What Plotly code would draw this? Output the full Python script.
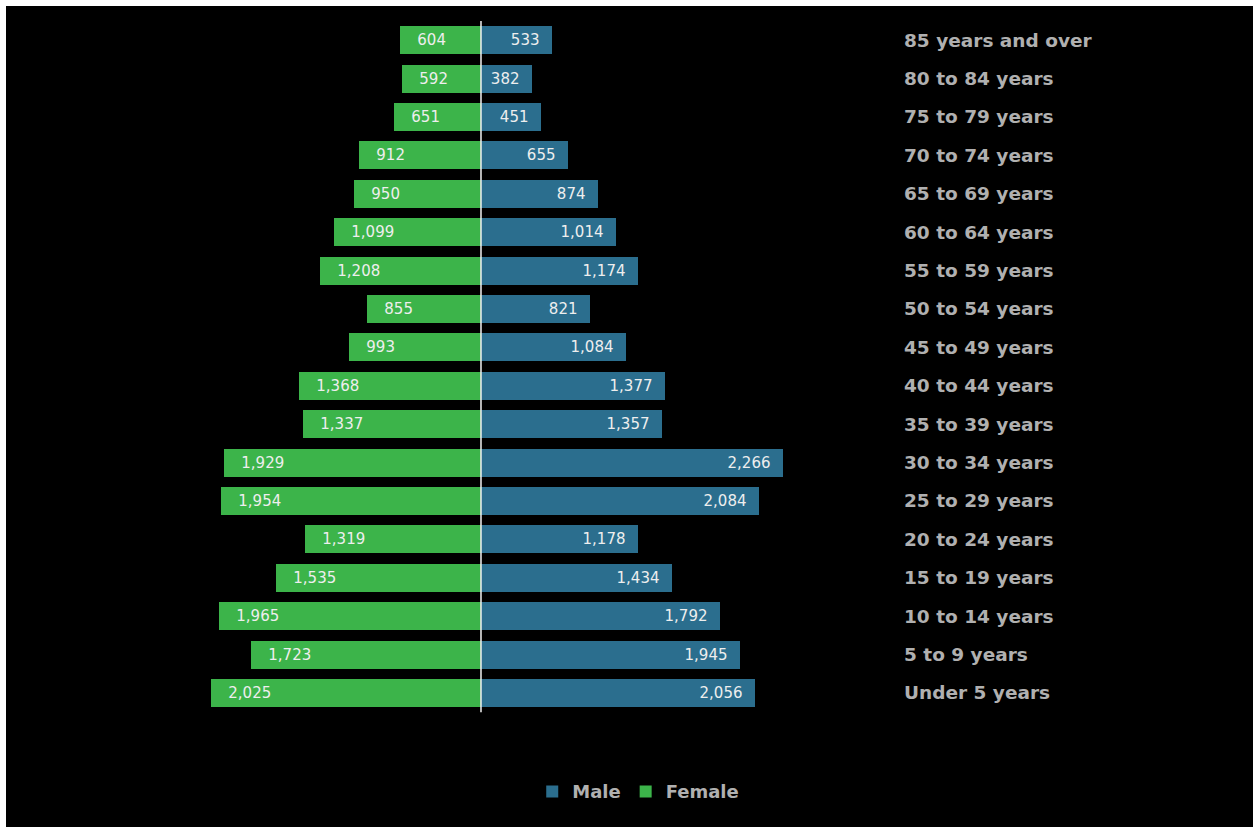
import plotly.graph_objects as go

# Age groups, youngest first (bottom of the pyramid)
age_groups = [
    "Under 5 years", "5 to 9 years", "10 to 14 years", "15 to 19 years",
    "20 to 24 years", "25 to 29 years", "30 to 34 years", "35 to 39 years",
    "40 to 44 years", "45 to 49 years", "50 to 54 years", "55 to 59 years",
    "60 to 64 years", "65 to 69 years", "70 to 74 years", "75 to 79 years",
    "80 to 84 years", "85 years and over",
]
male = [2056, 1945, 1792, 1434, 1178, 2084, 2266, 1357, 1377, 1084,
        821, 1174, 1014, 874, 655, 451, 382, 533]
female = [2025, 1723, 1965, 1535, 1319, 1954, 1929, 1337, 1368, 993,
          855, 1208, 1099, 950, 912, 651, 592, 604]

MALE_COLOR = "#2b6e8e"
FEMALE_COLOR = "#3cb44a"
LABEL_GRAY = "#b0b0b0"
LABEL_FONT = "DejaVu Sans"

W, H = 1259, 833
idx = list(range(len(age_groups)))
NB = "\u00a0"

fig = go.Figure()

fig.add_trace(go.Bar(
    y=idx, x=male, name="<b>Male</b>", orientation="h",
    marker=dict(color=MALE_COLOR, line=dict(width=0)),
    text=[f"{v:,}{NB*2}" for v in male], textposition="inside",
    insidetextanchor="end", textangle=0,
    textfont=dict(color="#eeeeee", size=15, family=LABEL_FONT),
    width=0.73, hoverinfo="skip",
))
fig.add_trace(go.Bar(
    y=idx, x=[-v for v in female], name="<b>Female</b>", orientation="h",
    marker=dict(color=FEMALE_COLOR, line=dict(width=0)),
    text=[f"{NB*3}{v:,}" for v in female], textposition="inside",
    insidetextanchor="end", textangle=0,
    textfont=dict(color="#eeeeee", size=15, family=LABEL_FONT),
    width=0.73, hoverinfo="skip",
))

# Age group labels in a column to the right of the bars
for i, name in zip(idx, age_groups):
    fig.add_annotation(
        x=3160, y=i, text=f"<b>{name}</b>", showarrow=False,
        xanchor="left", yanchor="middle",
        font=dict(color=LABEL_GRAY, size=18.5, family=LABEL_FONT),
    )

# Center divider
fig.add_shape(type="line", x0=0, x1=0, y0=-0.5, y1=len(idx) - 0.5,
              line=dict(color="#f2f2f2", width=1.5), layer="above")

fig.update_layout(
    width=W, height=H,
    margin=dict(l=6, r=6, t=6, b=6),
    paper_bgcolor="white", plot_bgcolor="black",
    barmode="overlay", bargap=0,
    showlegend=True,
    legend=dict(
        orientation="h", x=0.507, xanchor="center", y=0.043, yanchor="middle",
        bgcolor="rgba(0,0,0,0)",
        font=dict(color=LABEL_GRAY, size=18, family=LABEL_FONT),
        traceorder="normal", itemwidth=30,
    ),
    xaxis=dict(range=[-3563, 5791], visible=False, fixedrange=True),
    yaxis=dict(range=[-3.49, 17.89], visible=False, fixedrange=True),
)

fig.write_html("out.html")
